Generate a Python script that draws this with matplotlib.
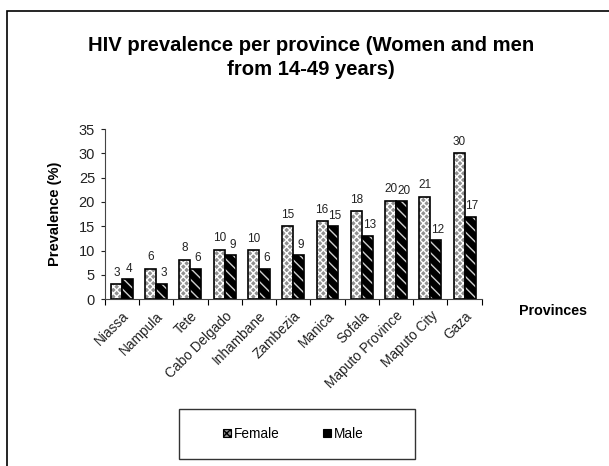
import numpy as np
import matplotlib
matplotlib.use('Agg')
import matplotlib.pyplot as plt
from matplotlib.patches import Rectangle

plt.rcParams['font.family'] = ['Liberation Sans', 'DejaVu Sans']

provinces = ['Niassa', 'Nampula', 'Tete', 'Cabo Delgado', 'Inhambane', 'Zambezia',
             'Manica', 'Sofala', 'Maputo Province', 'Maputo City', 'Gaza']
female = [3.1, 6.3, 8.1, 10.2, 10.1, 15.0, 16.0, 18.1, 20.2, 21.1, 30.0]
male = [4.2, 3.2, 6.3, 9.0, 6.3, 9.0, 15.0, 13.1, 20.2, 12.1, 17.0]
female_labels = ['3', '6', '8', '10', '10', '15', '16', '18', '20', '21', '30']
male_labels = ['4', '3', '6', '9', '6', '9', '15', '13', '20', '12', '17']

fig = plt.figure(figsize=(6.09, 4.66), dpi=100)
ax = fig.add_axes([0.172, 0.358, 0.619, 0.365])

x = np.arange(len(provinces))
w = 0.32

# female: light grey fine pattern
ax.bar(x - w / 2, female, w, facecolor='#909090', edgecolor='white', hatch='xxxxx', lw=0)
ax.bar(x - w / 2, female, w, fill=False, edgecolor='black', lw=1.2)
# male: black with white wavy pattern
ax.bar(x + w / 2, male, w, facecolor='black', edgecolor='#d0d0d0', hatch='\\\\\\', lw=0)
ax.bar(x + w / 2, male, w, fill=False, edgecolor='black', lw=1.2)

for i in range(len(provinces)):
    ax.annotate(female_labels[i], (x[i] - w / 2, female[i]), xytext=(0, 4),
                textcoords='offset points', ha='center', va='bottom', fontsize=8.5, color='#222222')
    ax.annotate(male_labels[i], (x[i] + w / 2, male[i]), xytext=(1.5, 3),
                textcoords='offset points', ha='center', va='bottom', fontsize=8.5, color='#222222')

ax.set_xlim(-0.5, len(provinces) - 0.5)
ax.set_ylim(0, 35)
ax.set_yticks(range(0, 36, 5))
ax.tick_params(axis='y', labelsize=10.5, length=3, pad=4, colors='#222222')
ax.set_xticks(np.arange(-0.5, len(provinces), 1.0))
ax.set_xticklabels([])
ax.tick_params(axis='x', length=4)
ax.set_xticks(x, minor=True)
ax.set_xticklabels(provinces, minor=True, rotation=45, ha='right', rotation_mode='anchor',
                   fontsize=9.8, color='#222222')
ax.tick_params(axis='x', which='minor', length=0, pad=7)
ax.spines['top'].set_visible(False)
ax.spines['right'].set_visible(False)
ax.spines['left'].set_color('#444444')
ax.spines['bottom'].set_color('#444444')

ax.set_ylabel('Prevalence (%)', fontsize=10.5, fontweight='bold', labelpad=12)
fig.text(0.853, 0.332, 'Provinces', fontsize=10.3, fontweight='bold', ha='left', va='center')

fig.text(0.511, 0.877, 'HIV prevalence per province (Women and men\nfrom 14-49 years)',
         fontsize=14.6, fontweight='bold', ha='center', va='center', linespacing=1.3)

# outer frame (left and top edges visible)
fig.patches.append(Rectangle((7 / 609, -0.1), 1.1, 1 - 11 / 466 + 0.1, fill=False,
                             edgecolor='black', lw=1.2, transform=fig.transFigure))

# legend box
fig.patches.append(Rectangle((179 / 609, 1 - 459 / 466), 236 / 609, 50 / 466, fill=False,
                             edgecolor='#333333', lw=1.0, transform=fig.transFigure))
h1 = Rectangle((0, 0), 1, 1, facecolor='#909090', edgecolor='black', hatch='xxxxx', lw=0.8)
h2 = Rectangle((0, 0), 1, 1, facecolor='black', edgecolor='black', lw=0.8)
fig.legend([h1, h2], ['Female', 'Male'], loc='center', bbox_to_anchor=(0.482, 0.069),
           ncol=2, frameon=False, fontsize=9.8, handlelength=0.55, handleheight=0.6,
           handletextpad=0.25, columnspacing=3.2)

fig.savefig('out.png', dpi=100)
